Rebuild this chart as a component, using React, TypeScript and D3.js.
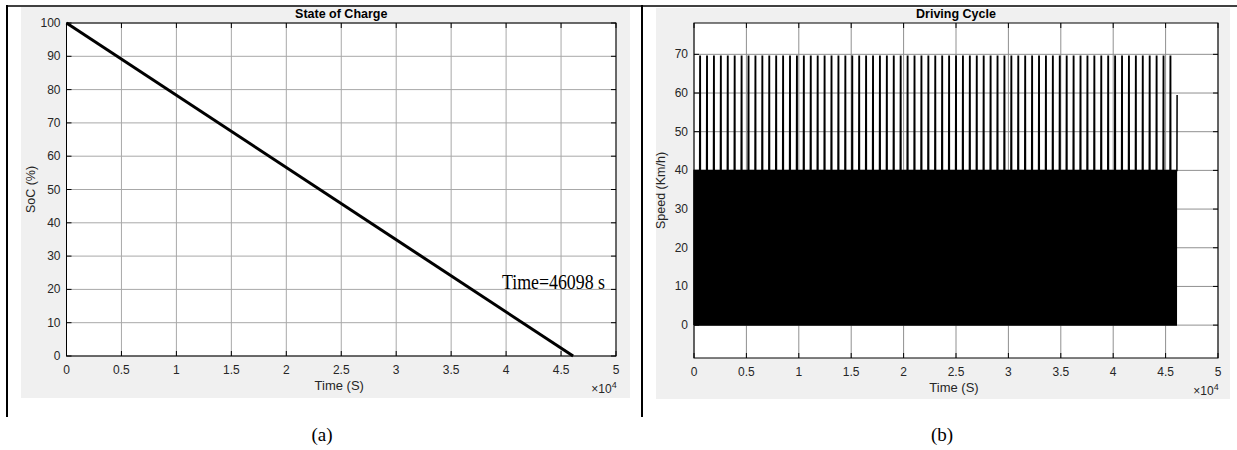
import React from "react";
import * as d3 from "d3";

// ---------- data ----------
const xTickValues = [0, 5000, 10000, 15000, 20000, 25000, 30000, 35000, 40000, 45000, 50000];
const xTickLabels = ["0", "0.5", "1", "1.5", "2", "2.5", "3", "3.5", "4", "4.5", "5"];

const socTime = [0, 46098];
const socValue = [100, 0];
const socTicks = [0, 10, 20, 30, 40, 50, 60, 70, 80, 90, 100];

const speedTicks = [0, 10, 20, 30, 40, 50, 60, 70];
// one repetition of the driving cycle (s, km/h)
const cycleTimes = [0, 8, 80, 88, 96, 104, 176, 184, 192, 200, 272, 280, 288, 296, 368, 376, 384, 392, 464, 472, 480, 488, 540, 565, 600, 610, 620, 660];
const cycleSpeeds = [0, 40, 40, 0, 0, 40, 40, 0, 0, 40, 40, 0, 0, 40, 40, 0, 0, 40, 40, 0, 0, 40, 40, 69.5, 69.5, 40, 0, 0];
const cyclePeriod = 660;
const cycleCount = 70;
const endTime = 46098;
const endSpeed = 59.5;

// build the driving series by repeating the cycle
const driveSeries: [number, number][] = [];
for (let k = 0; k < cycleCount; k++) {
  for (let i = 0; i < cycleTimes.length; i++) {
    const t = k * cyclePeriod + cycleTimes[i];
    if (t < endTime) driveSeries.push([t, cycleSpeeds[i]]);
  }
}
driveSeries.push([endTime, endSpeed]);

const SANS = "'Liberation Sans', Arial, Helvetica, sans-serif";
const SERIF = "'Liberation Serif', 'Times New Roman', serif";
const TXT = "#262626";

type AxesProps = {
  left: number; right: number; top: number; bottom: number;
  yDomain: [number, number]; yTicks: number[];
  title: string; ylabel: string; ylabelX: number;
  children: (x: d3.ScaleLinear<number, number>, y: d3.ScaleLinear<number, number>) => React.ReactNode;
  gridColor: string;
};

function Axes(p: AxesProps) {
  const x = d3.scaleLinear().domain([0, 50000]).range([p.left, p.right]);
  const y = d3.scaleLinear().domain(p.yDomain).range([p.bottom, p.top]);
  const tl = 5;
  return (
    <g>
      <rect x={p.left} y={p.top} width={p.right - p.left} height={p.bottom - p.top} fill="#fff" />
      {xTickValues.map((v) => (
        <line key={"gx" + v} x1={x(v)} x2={x(v)} y1={p.top} y2={p.bottom} stroke={p.gridColor} strokeWidth={1} />
      ))}
      {p.yTicks.map((v) => (
        <line key={"gy" + v} x1={p.left} x2={p.right} y1={y(v)} y2={y(v)} stroke={p.gridColor} strokeWidth={1} />
      ))}
      {p.children(x, y)}
      <rect x={p.left} y={p.top} width={p.right - p.left} height={p.bottom - p.top} fill="none" stroke="#000" strokeWidth={1} />
      {xTickValues.map((v, i) => (
        <g key={"tx" + v}>
          <line x1={x(v)} x2={x(v)} y1={p.bottom} y2={p.bottom - tl} stroke="#000" />
          <line x1={x(v)} x2={x(v)} y1={p.top} y2={p.top + tl} stroke="#000" />
          <text x={x(v)} y={p.bottom + 18} textAnchor="middle" fontFamily={SANS} fontSize={12} fill={TXT}>{xTickLabels[i]}</text>
        </g>
      ))}
      {p.yTicks.map((v) => (
        <g key={"ty" + v}>
          <line x1={p.left} x2={p.left + tl} y1={y(v)} y2={y(v)} stroke="#000" />
          <line x1={p.right} x2={p.right - tl} y1={y(v)} y2={y(v)} stroke="#000" />
          <text x={p.left - 6} y={y(v) + 4} textAnchor="end" fontFamily={SANS} fontSize={12} fill={TXT}>{v}</text>
        </g>
      ))}
      <text x={(p.left + p.right) / 2} y={p.top - 5} textAnchor="middle" fontFamily={SANS} fontSize={12.5} fontWeight="bold" fill="#000">{p.title}</text>
      <text x={(p.left + p.right) / 2 - 2} y={p.bottom + 34} textAnchor="middle" fontFamily={SANS} fontSize={13} fill={TXT}>Time (S)</text>
      <text x={p.right - 12} y={p.bottom + 37} textAnchor="middle" fontFamily={SANS} fontSize={12} fill={TXT}>
        {"\u00d710"}<tspan dy={-5} fontSize={9}>4</tspan>
      </text>
      <text transform={`translate(${p.ylabelX},${(p.top + p.bottom) / 2}) rotate(-90)`} textAnchor="middle" fontFamily={SANS} fontSize={12.5} fill={TXT}>{p.ylabel}</text>
    </g>
  );
}

export default function App() {
  const socLine = (x: d3.ScaleLinear<number, number>, y: d3.ScaleLinear<number, number>) => {
    const gen = d3.line<number>().x((d, i) => x(socTime[i])).y((d) => y(d));
    return (
      <g>
        <path d={gen(socValue) || ""} fill="none" stroke="#000" strokeWidth={3} />
        <text x={502} y={289} fontFamily={SERIF} fontSize={22} fill="#000" textLength={103} lengthAdjust="spacingAndGlyphs">Time=46098 s</text>
      </g>
    );
  };
  const driveLine = (x: d3.ScaleLinear<number, number>, y: d3.ScaleLinear<number, number>) => {
    const gen = d3.line<[number, number]>().x((d) => x(d[0])).y((d) => y(d[1]));
    return <path d={gen(driveSeries) || ""} fill="none" stroke="#000" strokeWidth={1.5} />;
  };
  return (
    <svg width={1237} height={450} style={{ display: "block", position: "absolute", left: 0, top: 0 }}>
      <rect x={0} y={0} width={1237} height={450} fill="#fff" />
      <rect x={21} y={7} width={609} height={391} fill="#f0f0f0" />
      <rect x={656} y={8} width={574} height={391} fill="#f0f0f0" />
      <Axes left={66.5} right={616} top={23} bottom={356} yDomain={[0, 100]} yTicks={socTicks}
        title="State of Charge" ylabel="SoC (%)" ylabelX={35} gridColor="#a8a8a8">
        {socLine}
      </Axes>
      <Axes left={694} right={1218} top={23} bottom={358} yDomain={[-8.5, 78.1]} yTicks={speedTicks}
        title="Driving Cycle" ylabel="Speed (Km/h)" ylabelX={665} gridColor="#909090">
        {driveLine}
      </Axes>
      <line x1={7} x2={1237} y1={6} y2={6} stroke="#000" strokeWidth={1.5} />
      <line x1={7} x2={7} y1={5} y2={417} stroke="#000" strokeWidth={2} />
      <line x1={642} x2={642} y1={5} y2={417} stroke="#000" strokeWidth={2} />
      <text x={322} y={441} textAnchor="middle" fontFamily={SERIF} fontSize={19} fill="#000">(a)</text>
      <text x={942} y={441} textAnchor="middle" fontFamily={SERIF} fontSize={19} fill="#000">(b)</text>
    </svg>
  );
}
